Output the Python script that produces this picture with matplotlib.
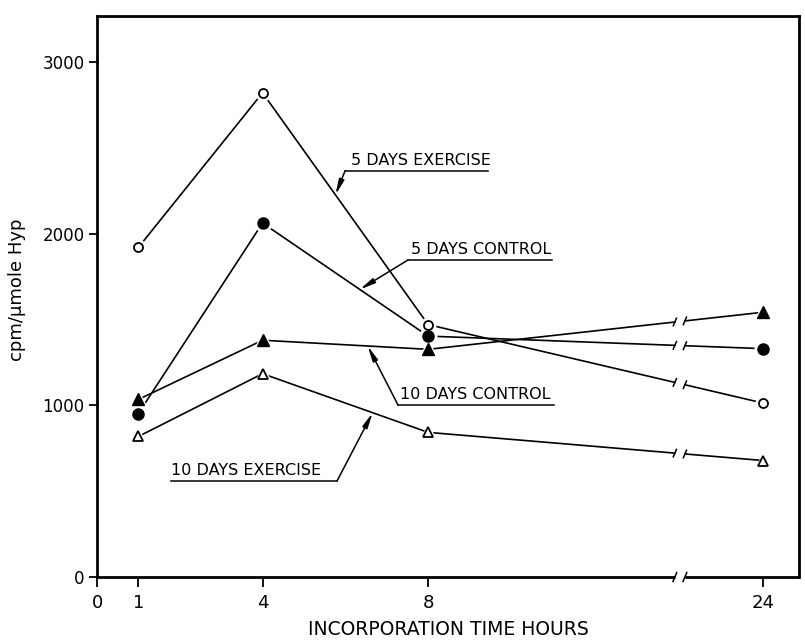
import matplotlib
matplotlib.use('Agg')
import matplotlib.pyplot as plt
import numpy as np

# ---- data ----
hours = [1, 4, 8, 24]
ex5 = [1921, 2822, 1471, 1014]     # 5 days exercise (open circles)
ctl5 = [953, 2063, 1404, 1331]     # 5 days control (filled circles)
ctl10 = [1035, 1380, 1327, 1543]   # 10 days control (filled triangles)
ex10 = [819, 1185, 843, 679]       # 10 days exercise (open triangles)
xticks = [0, 1, 4, 8, 24]
xticklabels = ['0', '1', '4', '8', '24']
yticks = [0, 1000, 2000, 3000]
yticklabels = ['0', '1000', '2000', '3000']
series_labels = ['5 DAYS EXERCISE', '5 DAYS CONTROL', '10 DAYS CONTROL', '10 DAYS EXERCISE']

plt.rcParams['font.family'] = ['DejaVu Sans']

# broken time axis: linear to 8 h, compressed beyond
K = 0.5056
def fwd(h):
    h = np.asarray(h, float)
    return np.where(h <= 8, h, 8 + (h - 8) * K)
def inv(p):
    p = np.asarray(p, float)
    return np.where(p <= 8, p, 8 + (p - 8) / K)

HB = 20.03   # break location (hours)
G = 0.24     # half gap (hours)

fig = plt.figure(figsize=(8.05, 6.42), dpi=100)
ax = fig.add_axes([0.1205, 0.1012, 0.8720, 0.874])
ax.set_xscale('function', functions=(fwd, inv))
ax.set_xlim(0, 25.72)
ax.set_ylim(0, 3270)

def slash(x, y):
    ax.plot([x - 0.09, x + 0.09], [y - 26, y + 26], color='black', lw=1.1,
            zorder=2, solid_capstyle='butt')

styles = [
    dict(marker='o', mfc='white', mec='black', ms=6.5, mew=1.3),
    dict(marker='o', mfc='black', mec='black', ms=8, mew=1.0),
    dict(marker='^', mfc='black', mec='black', ms=8.5, mew=1.0),
    dict(marker='^', mfc='white', mec='black', ms=7.5, mew=1.3),
]
allseries = [ex5, ctl5, ctl10, ex10]
for vals in allseries:
    ax.plot(hours[:3], vals[:3], color='black', lw=1.2, zorder=2)
    yl = np.interp(HB - G, [hours[2], hours[3]], [vals[2], vals[3]])
    yr = np.interp(HB + G, [hours[2], hours[3]], [vals[2], vals[3]])
    ax.plot([hours[2], HB - G], [vals[2], yl], color='black', lw=1.2, zorder=2)
    ax.plot([HB + G, hours[3]], [yr, vals[3]], color='black', lw=1.2, zorder=2)
    slash(HB - G, yl)
    slash(HB + G, yr)

# halos so lines stop short of the symbols
for vals, st in zip(allseries, styles):
    ax.plot(hours, vals, ls='none', marker=st['marker'], ms=st['ms'] + 4,
            mfc='white', mec='white', zorder=3)
for vals, st in zip(allseries, styles):
    ax.plot(hours, vals, ls='none', zorder=4, **st)

# annotations
ann = [
    (0.3618, 0.7237, 0.3533, 0.557, 'left', 5.76, ex5),
    (0.447, 0.565, 0.443, 0.648, 'left', 6.35, ctl5),
    (0.4316, 0.3066, 0.4288, 0.651, 'left', 6.54, ctl10),
    (0.1054, 0.1711, 0.1054, 0.3419, 'right', 6.66, ex10),
]
for lab, (tx, uy, ux0, ux1, side, th, vals) in zip(series_labels, ann):
    ax.text(tx, uy + 0.006, lab, transform=ax.transAxes, fontsize=11.5,
            ha='left', va='bottom', color='black')
    ax.plot([ux0, ux1], [uy, uy], transform=ax.transAxes, color='black', lw=1.1)
    sx = ux0 if side == 'left' else ux1
    ty = np.interp(th, hours, vals)
    ax.annotate('', xy=(th, ty), xycoords='data', xytext=(sx, uy),
                textcoords='axes fraction',
                arrowprops=dict(arrowstyle='-|>,head_length=0.9,head_width=0.16',
                                lw=1.1, color='black', shrinkA=0, shrinkB=0))

# frame
for s in ['left', 'top', 'right']:
    ax.spines[s].set_linewidth(2.0)
ax.spines['bottom'].set_visible(False)
xt = ax.get_xaxis_transform()
ax.plot([0, HB - G], [0, 0], transform=xt, color='black', lw=2.0, clip_on=False,
        solid_capstyle='butt', zorder=5)
ax.plot([HB + G, 25.72], [0, 0], transform=xt, color='black', lw=2.0, clip_on=False,
        solid_capstyle='butt', zorder=5)
for xb in (HB - G, HB + G):
    ax.plot([xb - 0.09, xb + 0.09], [-0.008, 0.008], transform=xt, color='black',
            lw=1.1, clip_on=False, zorder=5)

ax.set_xticks(xticks)
ax.set_xticklabels(xticklabels)
ax.set_yticks(yticks)
ax.set_yticklabels(yticklabels)
ax.xaxis.set_minor_locator(matplotlib.ticker.NullLocator())
ax.tick_params(axis='x', direction='out', length=7, width=1.3, pad=5, labelsize=13)
ax.tick_params(axis='y', direction='out', length=6, width=1.3, pad=3, labelsize=12)

ax.set_xlabel('INCORPORATION TIME HOURS', fontsize=13.5, labelpad=6)
fig.text(17 / 805, 1 - 290 / 642, 'cpm/\u03bcmole Hyp', rotation=90,
         ha='center', va='center', fontsize=13)

fig.savefig('out.png', dpi=100)
